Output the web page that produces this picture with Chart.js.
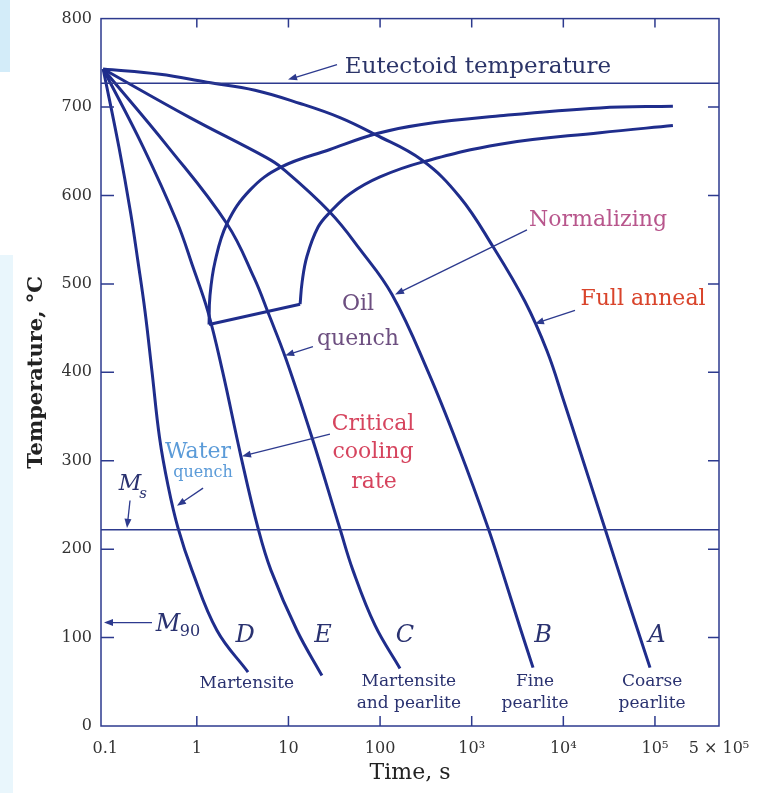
<!DOCTYPE html>
<html lang="en">
<head>
  <meta charset="UTF-8">
  <title>Continuous cooling curves - eutectoid steel</title>
  <script src="https://cdn.jsdelivr.net/npm/chart.js"></script>
  <style>
    html, body { margin: 0; padding: 0; background: #fff; }
    canvas { display: block; }
  </style>
</head>
<body>
  <canvas id="cct" width="763" height="793"></canvas>

  <script>
    // axis ticks
    const xTickValues = [0.1, 1, 10, 100, 1e3, 1e4, 1e5, 5e5];
    const xTickLabels = ['0.1', '1', '10', '100', '10³', '10⁴', '10⁵', '5 × 10⁵'];
    const markTicks = [1, 10, 100, 1e3, 1e4, 1e5];

    // cooling curves (time in s, temperature in °C)
    const timeD = [0.095, 0.141, 0.189, 0.228, 0.272, 0.324, 0.392, 0.485, 0.623, 0.886, 1.66, 3.62];
    const tempD = [743, 655, 581, 525, 469, 401, 326, 272, 224, 176, 108, 61];

    const timeE = [0.095, 0.259, 0.608, 0.908, 1.32, 1.91, 3.03, 4.65, 6.45, 12.4, 23.2];
    const tempE = [743, 655, 570, 519, 469, 401, 305, 224, 176, 108, 57];

    const timeC = [0.095, 0.485, 2.13, 4.21, 6.13, 9.40, 18.1, 36.5, 50.6, 87.9, 165];
    const tempC = [743, 655, 568, 507, 465, 415, 326, 223, 176, 114, 65];

    const timeB = [0.095, 0.842, 5.69, 8.51, 28.4, 60.4, 135, 333, 745, 1510, 2140, 3450, 4670];
    const tempB = [743, 688, 643, 631, 581, 539, 488, 401, 311, 224, 176, 108, 66];

    const timeA = [0.095, 0.397, 1.29, 4.31, 13.4, 36.5, 87.9, 286, 745, 1710, 3815, 6640, 10160, 15200, 28500, 50800, 88300];
    const tempA = [743, 737, 728, 719, 704, 688, 669, 640, 598, 542, 480, 424, 367, 311, 223, 142, 66];

    // transformation start, nose base and finish
    const timeStart = [1.36, 1.39, 1.58, 2.13, 3.80, 8.28, 28.4, 92.5, 273, 2040, 25100, 157000];
    const tempStart = [454, 486, 525, 568, 606, 632, 652, 670, 680, 690, 699, 701];

    const timeBase = [1.36, 13.4];
    const tempBase = [454, 477];

    const timeFinish = [13.4, 14.1, 15.9, 21.0, 28.4, 47.0, 99.8, 294, 2040, 25100, 157000];
    const tempFinish = [477, 502, 531, 564, 581, 602, 621, 638, 658, 671, 679];

    const eutectoidTemp = 727;
    const msTemp = 222;
    const m90Temp = 117;
    const timeMin = 0.09;
    const timeMax = 5e5;

    const curveColor = '#1f2d8c';
    const axisColor = '#2d3a8e';
    const serif = "'DejaVu Serif'";

    function curve(label, times, temps, tension) {
      return {
        label: label,
        data: times.map((t, i) => ({ x: t, y: temps[i] })),
        showLine: true,
        borderColor: curveColor,
        borderWidth: 3,
        pointRadius: 0,
        tension: tension,
        fill: false
      };
    }

    function level(label, temp) {
      return {
        label: label,
        data: [{ x: timeMin, y: temp }, { x: timeMax, y: temp }],
        showLine: true,
        borderColor: axisColor,
        borderWidth: 1.5,
        pointRadius: 0,
        fill: false
      };
    }

    // labels placed in data units: [text, time, temp, font, colour]
    const notes = [
      ['Eutectoid temperature', 1170, 745, `23px ${serif}`, '#2b3468'],
      ['Normalizing', 23900, 572, `22px ${serif}`, '#b8568c'],
      ['Full anneal', 74000, 483, `22px ${serif}`, '#d9442b'],
      ['Oil', 57.4, 477, `22px ${serif}`, '#6d4f80'],
      ['quench', 57.4, 437, `22px ${serif}`, '#6d4f80'],
      ['Critical', 83.8, 341, `22px ${serif}`, '#d6445e'],
      ['cooling', 83.8, 310, `22px ${serif}`, '#d6445e'],
      ['rate', 86, 276, `22px ${serif}`, '#d6445e'],
      ['Water', 1.03, 310, `22px ${serif}`, '#5b9bd8'],
      ['quench', 1.17, 286, `16px ${serif}`, '#5b9bd8'],
      ['D', 3.36, 102, `italic 24px ${serif}`, '#2a3270'],
      ['E', 23.8, 102, `italic 24px ${serif}`, '#2a3270'],
      ['C', 187, 102, `italic 24px ${serif}`, '#2a3270'],
      ['B', 6000, 102, `italic 24px ${serif}`, '#2a3270'],
      ['A', 105000, 102, `italic 24px ${serif}`, '#2a3270'],
      ['Martensite', 3.52, 48.5, `17px ${serif}`, '#2a3270'],
      ['Martensite', 206, 50.7, `17px ${serif}`, '#2a3270'],
      ['and pearlite', 206, 25.9, `17px ${serif}`, '#2a3270'],
      ['Fine', 4910, 50.7, `17px ${serif}`, '#2a3270'],
      ['pearlite', 4910, 25.9, `17px ${serif}`, '#2a3270'],
      ['Coarse', 93000, 50.7, `17px ${serif}`, '#2a3270'],
      ['pearlite', 93000, 25.9, `17px ${serif}`, '#2a3270']
    ];

    // pointer arrows: from (time, temp) to tip (time, temp)
    const pointers = [
      [33.9, 748, 9.9, 731],
      [4010, 561, 145.6, 488],
      [13400, 470, 4900, 455],
      [18.5, 429, 9.2, 419],
      [28.4, 330, 3.11, 305],
      [1.17, 269, 0.607, 249],
      [0.1866, 255, 0.173, 224],
      [0.324, m90Temp, 0.097, m90Temp]
    ];

    function arrow(ctx, x1, y1, x2, y2) {
      const ang = Math.atan2(y2 - y1, x2 - x1);
      const len = 9, half = 3.5;
      ctx.beginPath();
      ctx.moveTo(x1, y1);
      ctx.lineTo(x2 - Math.cos(ang) * len * 0.6, y2 - Math.sin(ang) * len * 0.6);
      ctx.stroke();
      ctx.beginPath();
      ctx.moveTo(x2, y2);
      ctx.lineTo(x2 - Math.cos(ang) * len - Math.sin(ang) * half, y2 - Math.sin(ang) * len + Math.cos(ang) * half);
      ctx.lineTo(x2 - Math.cos(ang) * len + Math.sin(ang) * half, y2 - Math.sin(ang) * len - Math.cos(ang) * half);
      ctx.closePath();
      ctx.fill();
    }

    const decor = {
      id: 'decor',
      beforeDraw(chart) {
        const { ctx, width, height } = chart;
        ctx.save();
        ctx.fillStyle = '#fff';
        ctx.fillRect(0, 0, width, height);
        ctx.fillStyle = '#d3ecf9';
        ctx.fillRect(0, 0, 10, 72);
        ctx.fillStyle = '#e9f6fc';
        ctx.fillRect(0, 255, 13, height - 255);
        ctx.restore();
      },
      afterDatasetsDraw(chart) {
        const { ctx, chartArea: a, scales: { x, y } } = chart;
        ctx.save();

        // frame with inward ticks
        ctx.strokeStyle = axisColor;
        ctx.lineWidth = 1.5;
        ctx.strokeRect(a.left, a.top, a.right - a.left, a.bottom - a.top);
        ctx.beginPath();
        for (let v = 100; v <= 700; v += 100) {
          const py = y.getPixelForValue(v);
          ctx.moveTo(a.left, py); ctx.lineTo(a.left + 13, py);
          ctx.moveTo(a.right, py); ctx.lineTo(a.right - 11, py);
        }
        markTicks.forEach(v => {
          const px = x.getPixelForValue(v);
          ctx.moveTo(px, a.top); ctx.lineTo(px, a.top + 9);
          ctx.moveTo(px, a.bottom); ctx.lineTo(px, a.bottom - 10);
        });
        ctx.stroke();

        // pointers
        ctx.lineWidth = 1.3;
        ctx.fillStyle = axisColor;
        pointers.forEach(p => {
          arrow(ctx, x.getPixelForValue(p[0]), y.getPixelForValue(p[1]),
                x.getPixelForValue(p[2]), y.getPixelForValue(p[3]));
        });

        // text notes
        ctx.textAlign = 'center';
        ctx.textBaseline = 'middle';
        notes.forEach(n => {
          ctx.font = n[3];
          ctx.fillStyle = n[4];
          ctx.fillText(n[0], x.getPixelForValue(n[1]), y.getPixelForValue(n[2]));
        });

        // Ms and M90 with subscripts
        ctx.fillStyle = '#2a3270';
        let mx = x.getPixelForValue(0.1866), my = y.getPixelForValue(273);
        ctx.font = `italic 22px ${serif}`;
        ctx.fillText('M', mx, my);
        ctx.font = `italic 15px ${serif}`;
        ctx.fillText('s', mx + 13, my + 10);

        mx = x.getPixelForValue(0.485); my = y.getPixelForValue(114);
        ctx.font = `italic 24px ${serif}`;
        ctx.fillText('M', mx, my);
        ctx.font = `16px ${serif}`;
        ctx.fillText('90', mx + 22, my + 7);

        ctx.restore();
      }
    };

    new Chart(document.getElementById('cct'), {
      type: 'scatter',
      data: {
        datasets: [
          level('Eutectoid', eutectoidTemp),
          level('Ms', msTemp),
          curve('Start', timeStart, tempStart, 0.4),
          curve('Base', timeBase, tempBase, 0),
          curve('Finish', timeFinish, tempFinish, 0.4),
          curve('D', timeD, tempD, 0.4),
          curve('E', timeE, tempE, 0.4),
          curve('C', timeC, tempC, 0.4),
          curve('B', timeB, tempB, 0.4),
          curve('A', timeA, tempA, 0.4)
        ]
      },
      options: {
        responsive: false,
        animation: false,
        layout: { padding: { top: 16, right: 44, left: 0, bottom: 0 } },
        plugins: { legend: { display: false }, tooltip: { enabled: false } },
        scales: {
          x: {
            type: 'logarithmic',
            min: timeMin,
            max: timeMax,
            afterBuildTicks: s => { s.ticks = xTickValues.map(v => ({ value: v })); },
            afterFit: s => { s.height = 67; },
            ticks: {
              callback: (v, i) => xTickLabels[i],
              font: { family: 'DejaVu Serif', size: 16 },
              color: '#333',
              padding: 13,
              maxRotation: 0,
              autoSkip: false
            },
            grid: { display: false, drawTicks: false },
            border: { display: false },
            title: {
              display: true,
              text: 'Time, s',
              font: { family: 'DejaVu Serif', size: 22 },
              color: '#222',
              padding: { top: 0, bottom: 7 }
            }
          },
          y: {
            min: 0,
            max: 800,
            afterFit: s => { s.width = 101; },
            ticks: {
              stepSize: 100,
              font: { family: 'DejaVu Serif', size: 16 },
              color: '#333',
              padding: 9
            },
            grid: { display: false, drawTicks: false },
            border: { display: false },
            title: {
              display: true,
              text: 'Temperature, °C',
              font: { family: 'DejaVu Serif', size: 21, weight: 'bold' },
              color: '#222',
              padding: { top: 24, bottom: 0 }
            }
          }
        }
      },
      plugins: [decor]
    });
  </script>
</body>
</html>
